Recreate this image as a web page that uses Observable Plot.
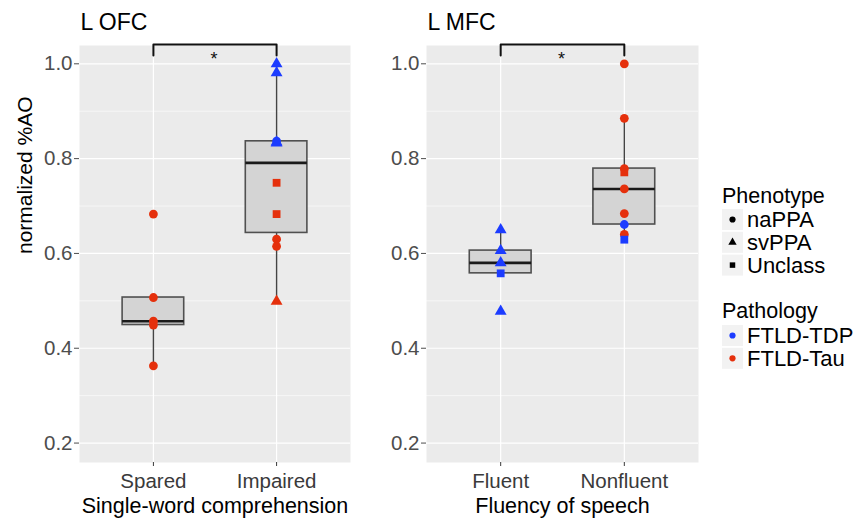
<!DOCTYPE html>
<html>
<head>
<meta charset="utf-8">
<script src="https://cdn.jsdelivr.net/npm/d3@7"></script>
<script src="https://cdn.jsdelivr.net/npm/@observablehq/plot@0.6"></script>
<style>
  body { margin: 0; background: #fff; font-family: "Liberation Sans", Arial, sans-serif; }
  #wrap { position: relative; width: 854px; height: 518px; overflow: hidden; background: #fff; }
  #left, #right, #legend { position: absolute; top: 0; }
  #left { left: 0; }
  #right { left: 347px; }
  #legend { left: 700px; top: 170px; }
</style>
</head>
<body>
<div id="wrap"><div id="left"></div><div id="right"></div><div id="legend"></div></div>
<script>
// ---------------- data ----------------
const phenotypes = ["naPPA", "svPPA", "Unclass"];
const pathologies = ["FTLD-TDP", "FTLD-Tau"];
const yTicks = [0.2, 0.4, 0.6, 0.8, 1.0];
const yMinor = [0.3, 0.5, 0.7, 0.9];

// L OFC
const ofcTitle = "L OFC";
const ofcXTitle = "Single-word comprehension";
const ofcGroups = ["Spared", "Impaired"];
const ofcGroup = ["Spared", "Spared", "Spared", "Spared", "Spared",
  "Impaired", "Impaired", "Impaired", "Impaired", "Impaired", "Impaired", "Impaired", "Impaired", "Impaired", "Impaired"];
const ofcValue = [0.683, 0.507, 0.457, 0.449, 0.363,
  1.000, 0.981, 0.833, 0.835, 0.837, 0.749, 0.683, 0.630, 0.615, 0.499];
const ofcPheno = ["naPPA", "naPPA", "naPPA", "naPPA", "naPPA",
  "svPPA", "svPPA", "svPPA", "svPPA", "naPPA", "Unclass", "Unclass", "naPPA", "naPPA", "svPPA"];
const ofcPath = ["FTLD-Tau", "FTLD-Tau", "FTLD-Tau", "FTLD-Tau", "FTLD-Tau",
  "FTLD-TDP", "FTLD-TDP", "FTLD-TDP", "FTLD-TDP", "FTLD-TDP", "FTLD-Tau", "FTLD-Tau", "FTLD-Tau", "FTLD-Tau", "FTLD-Tau"];

// L MFC
const mfcTitle = "L MFC";
const mfcXTitle = "Fluency of speech";
const mfcGroups = ["Fluent", "Nonfluent"];
const mfcGroup = ["Fluent", "Fluent", "Fluent", "Fluent", "Fluent",
  "Nonfluent", "Nonfluent", "Nonfluent", "Nonfluent", "Nonfluent", "Nonfluent", "Nonfluent", "Nonfluent", "Nonfluent"];
const mfcValue = [0.650, 0.606, 0.580, 0.558, 0.478,
  1.000, 0.885, 0.779, 0.771, 0.736, 0.684, 0.640, 0.661, 0.629];
const mfcPheno = ["svPPA", "svPPA", "svPPA", "Unclass", "svPPA",
  "naPPA", "naPPA", "naPPA", "Unclass", "naPPA", "naPPA", "naPPA", "naPPA", "Unclass"];
const mfcPath = ["FTLD-TDP", "FTLD-TDP", "FTLD-TDP", "FTLD-TDP", "FTLD-TDP",
  "FTLD-Tau", "FTLD-Tau", "FTLD-Tau", "FTLD-Tau", "FTLD-Tau", "FTLD-Tau", "FTLD-Tau", "FTLD-TDP", "FTLD-TDP"];

// significance bracket (data units) and label
const sigLabel = "*";
const bracketHigh = 1.0407;
const bracketLow = 1.0175;

// ---------------- styling ----------------
const RED = "#e5300c";
const BLUE = "#1c3cff";
const FONT = "'Liberation Sans', Arial, sans-serif";

function panel({title, xTitle, groups, group, value, pheno, path, width, showYTitle}) {
  const points = value.map((v, i) => ({
    x: groups.indexOf(group[i]) + 1, value: v, pheno: pheno[i], path: path[i]
  }));
  const stats = groups.map((g, gi) => {
    const vals = points.filter(p => p.x === gi + 1).map(p => p.value).sort(d3.ascending);
    const q1 = d3.quantile(vals, 0.25), med = d3.quantile(vals, 0.5), q3 = d3.quantile(vals, 0.75);
    const iqr = q3 - q1;
    const lo = d3.min(vals.filter(v => v >= q1 - 1.5 * iqr));
    const hi = d3.max(vals.filter(v => v <= q3 + 1.5 * iqr));
    return {x: gi + 1, q1, med, q3, lo, hi};
  });
  const bracket = [
    {x: 1, y: bracketLow}, {x: 1, y: bracketHigh}, {x: 2, y: bracketHigh}, {x: 2, y: bracketLow}
  ];
  const marks = [
    Plot.frame({fill: "#ebebeb", stroke: "none"}),
    Plot.ruleY(yMinor, {stroke: "#fff", strokeWidth: 0.6}),
    Plot.ruleY(yTicks, {stroke: "#fff", strokeWidth: 1.2}),
    Plot.ruleX([1, 2], {stroke: "#fff", strokeWidth: 1.2}),
    Plot.ruleX(stats, {x: "x", y1: "q3", y2: "hi", stroke: "#444", strokeWidth: 1.4}),
    Plot.ruleX(stats, {x: "x", y1: "lo", y2: "q1", stroke: "#444", strokeWidth: 1.4}),
    Plot.rect(stats, {x1: d => d.x - 0.25, x2: d => d.x + 0.25, y1: "q1", y2: "q3",
      fill: "#d4d4d4", stroke: "#505050", strokeWidth: 1.6}),
    Plot.ruleY(stats, {x1: d => d.x - 0.25, x2: d => d.x + 0.25, y: "med", stroke: "#1a1a1a", strokeWidth: 2.6}),
    Plot.dot(points, {x: "x", y: "value", symbol: "pheno", fill: "path", r: 4.4, stroke: "none"}),
    Plot.line(bracket, {x: "x", y: "y", stroke: "#111", strokeWidth: 2, curve: "linear"}),
    Plot.text([sigLabel], {x: 1.5, y: bracketLow, text: d => d, fontSize: 18, fill: "#111", lineAnchor: "middle", dx: -1, dy: 4}),
    Plot.axisY(yTicks, {tickSize: 5, tickPadding: 2, tickFormat: d3.format(".1f"), fontSize: 20.5,
      color: "#4d4d4d", label: null}),
    Plot.axisX([1, 2], {tickSize: 4, tickPadding: 6.5, tickFormat: d => groups[d - 1], fontSize: 20.5,
      color: "#3a3a3a", label: null}),
    Plot.text([title], {frameAnchor: "top-left", text: d => d, dx: 1, dy: -22.5, textAnchor: "start",
      lineAnchor: "middle", fontSize: 23, fill: "#000"}),
    Plot.text([xTitle], {frameAnchor: "bottom", text: d => d, dy: 43.5, lineAnchor: "middle",
      fontSize: 21.5, fill: "#000"})
  ];
  if (showYTitle) {
    marks.push(Plot.text(["normalized %AO"], {frameAnchor: "left", text: d => d, dx: -54.5, rotate: -90,
      lineAnchor: "middle", fontSize: 21, fill: "#000"}));
  }
  return Plot.plot({
    width, height: 518,
    marginLeft: 79, marginRight: 5, marginTop: 45, marginBottom: 56,
    style: {fontFamily: FONT, fontSize: "20px", background: "transparent", overflow: "visible"},
    x: {type: "linear", domain: [0.4, 2.6]},
    y: {domain: [0.159, 1.0386]},
    symbol: {domain: phenotypes, range: ["circle", "triangle", "square"]},
    color: {domain: pathologies, range: [BLUE, RED]},
    marks
  });
}

document.getElementById("left").appendChild(panel({
  title: ofcTitle, xTitle: ofcXTitle, groups: ofcGroups, group: ofcGroup, value: ofcValue,
  pheno: ofcPheno, path: ofcPath, width: 355, showYTitle: true
}));
document.getElementById("right").appendChild(panel({
  title: mfcTitle, xTitle: mfcXTitle, groups: mfcGroups, group: mfcGroup, value: mfcValue,
  pheno: mfcPheno, path: mfcPath, width: 356, showYTitle: false
}));

// ---------------- legend ----------------
(function legend() {
  const svg = d3.select("#legend").append("svg").attr("width", 154).attr("height", 210)
    .style("font-family", FONT).style("overflow", "visible");
  const symTypes = {naPPA: d3.symbolCircle, svPPA: d3.symbolTriangle, Unclass: d3.symbolSquare};
  function section(titleText, baseline, items, keyTop, symbolFor, fillFor) {
    svg.append("text").attr("x", 22).attr("y", baseline).attr("font-size", 21.5).attr("fill", "#000").text(titleText);
    items.forEach((it, i) => {
      const top = keyTop + i * 22.8;
      const cy = top + 10.5;
      svg.append("rect").attr("x", 22).attr("y", top).attr("width", 21).attr("height", 21).attr("fill", "#f2f2f2");
      svg.append("path").attr("transform", `translate(32.5,${cy})`)
        .attr("d", d3.symbol().type(symbolFor(it)).size(30)()).attr("fill", fillFor(it));
      svg.append("text").attr("x", 47).attr("y", cy + 7.7).attr("font-size", 22).attr("fill", "#000").text(it);
    });
  }
  section("Phenotype", 33, phenotypes, 39, p => symTypes[p], () => "#000");
  const pathColor = {"FTLD-TDP": BLUE, "FTLD-Tau": RED};
  section("Pathology", 148, pathologies, 155, () => d3.symbolCircle, p => pathColor[p]);
})();
</script>
</body>
</html>
